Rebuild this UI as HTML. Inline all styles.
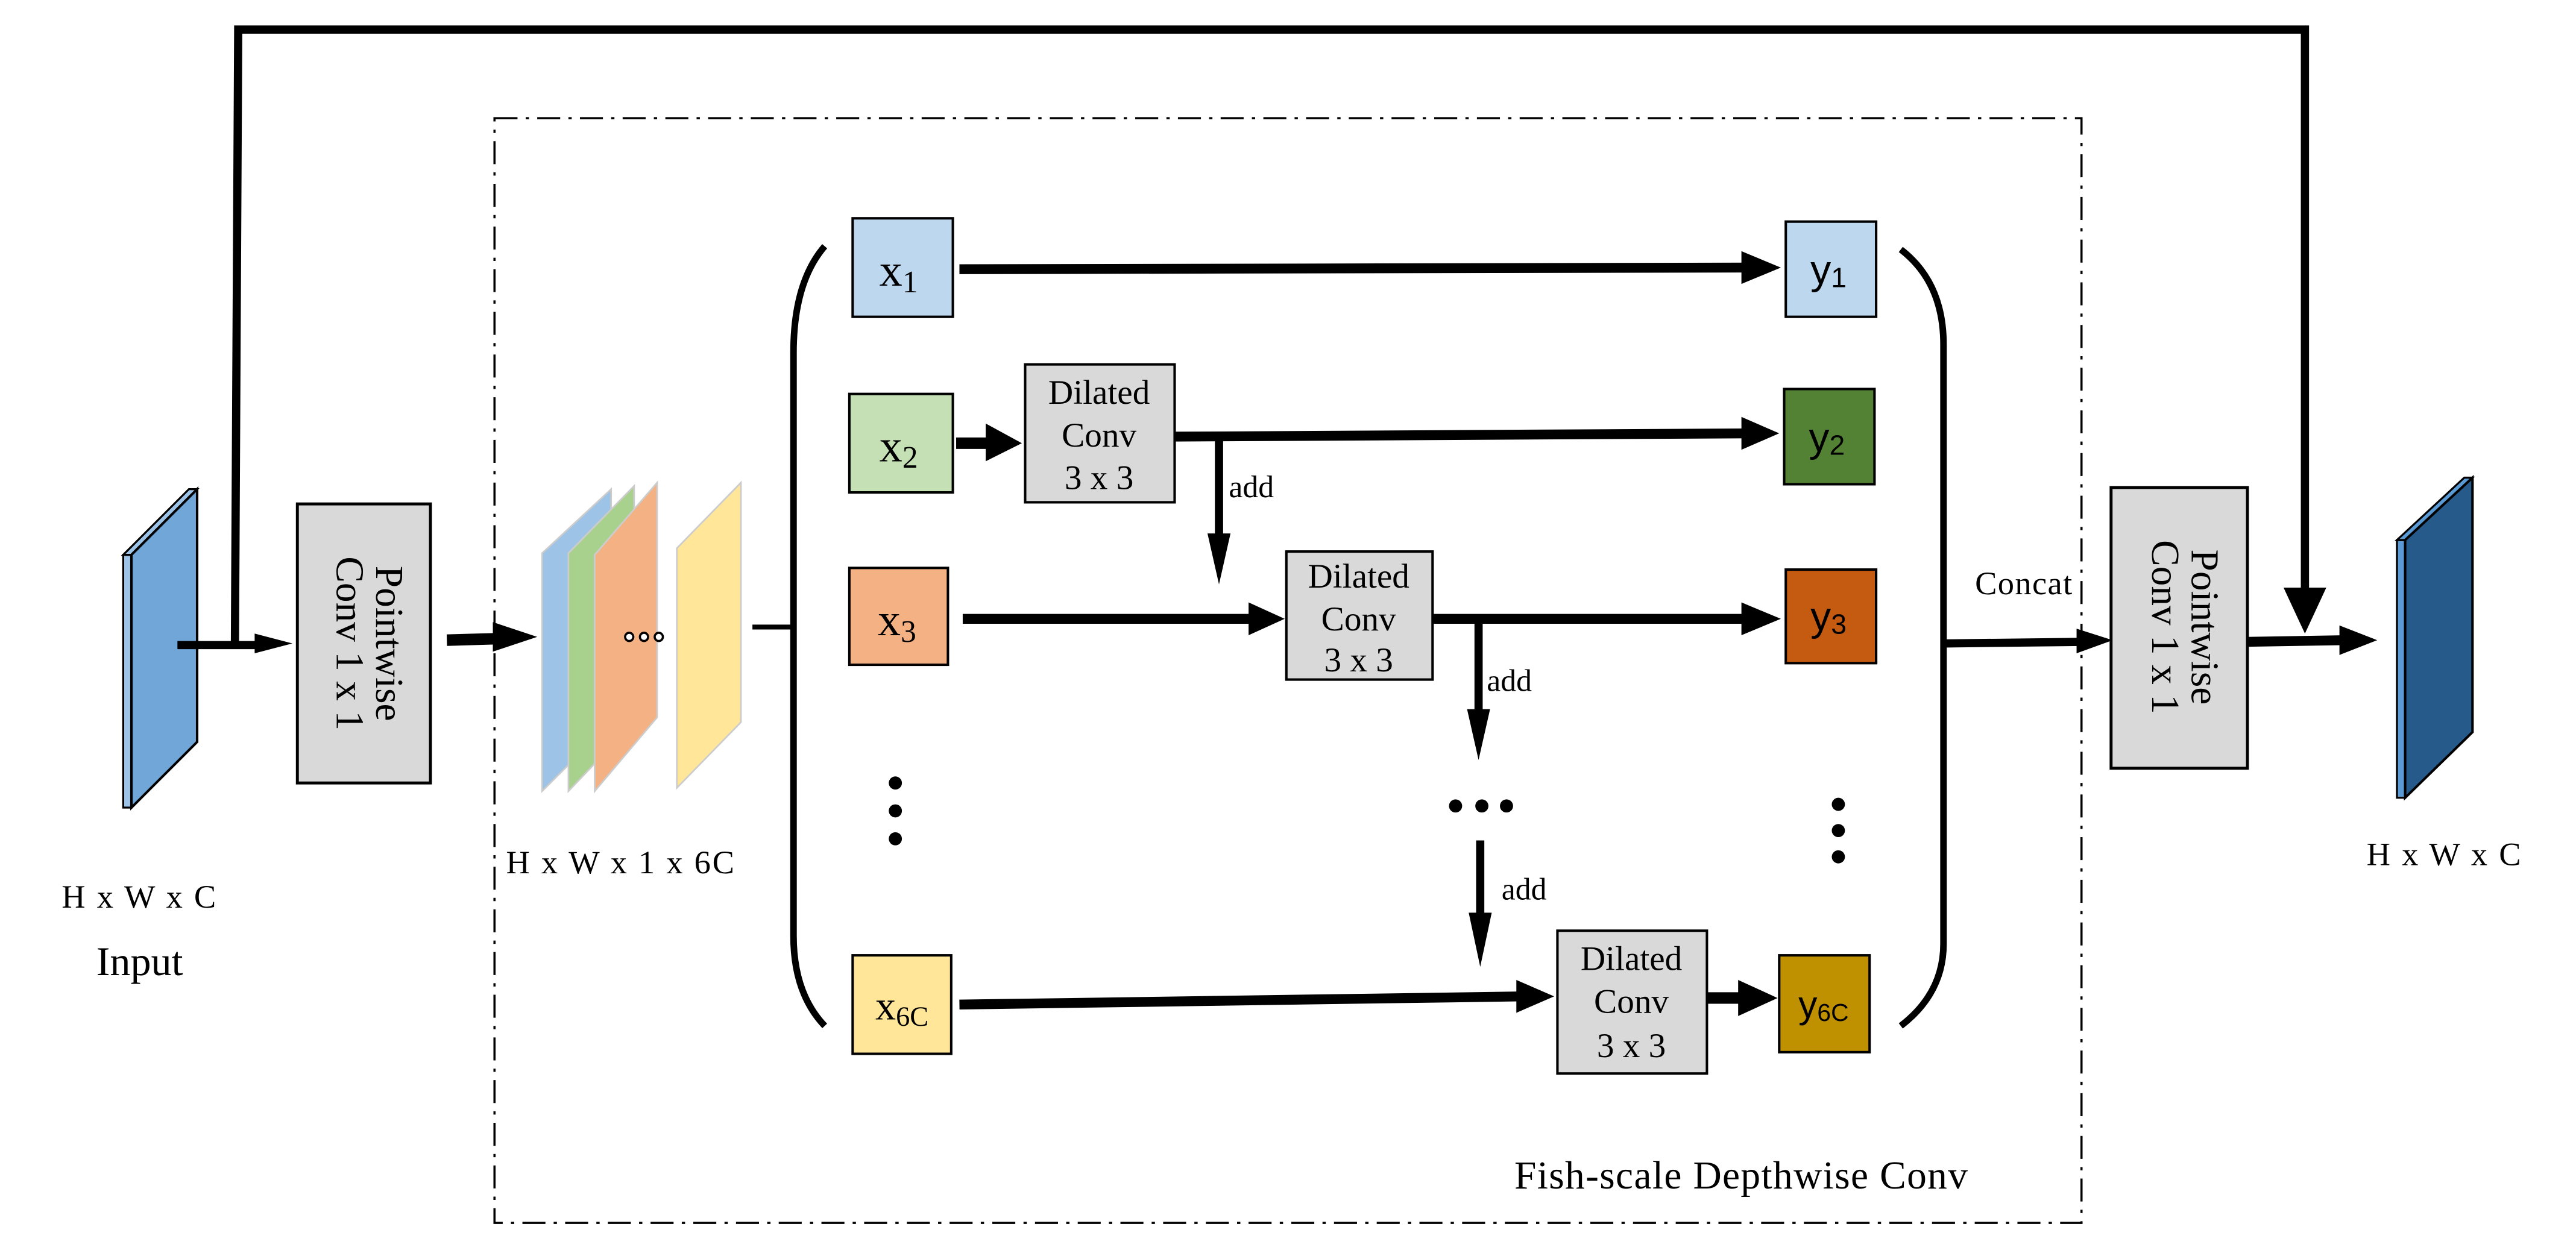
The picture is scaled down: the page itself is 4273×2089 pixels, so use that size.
<!DOCTYPE html>
<html><head><meta charset="utf-8"><style>
html,body{margin:0;padding:0;background:#fff;}
svg{display:block;}
text{font-family:"Liberation Serif",serif;fill:#000;}
.s{font-family:"Liberation Sans",sans-serif;}
</style></head><body>
<svg width="4273" height="2089" viewBox="0 0 1568 767" preserveAspectRatio="none" xmlns="http://www.w3.org/2000/svg">
<!-- dashed frame -->
<rect x="301" y="72" width="966" height="673" fill="none" stroke="#000" stroke-width="1.3" stroke-dasharray="14,5,2,5"/>
<!-- top skip -->
<polyline points="143,392 145,18 1403,18 1403,362" fill="none" stroke="#000" stroke-width="5"/>
<polygon points="1390,358 1416,358 1403,386" fill="#000"/>
<!-- input slab -->
<polygon points="75,338 80,338 80,492 75,492" fill="#9dc3e6" stroke="#000" stroke-width="1.2"/>
<polygon points="75,338 115,298 120,298 80,338" fill="#9dc3e6" stroke="#000" stroke-width="1.2"/>
<polygon points="80,338 120,298 120,452 80,492" fill="#70a6d8" stroke="#000" stroke-width="1.5"/>
<line x1="108" y1="393" x2="160" y2="393" stroke="#000" stroke-width="5"/>
<polygon points="155,386 178,392 155,398" fill="#000"/>
<!-- pointwise left -->
<rect x="181" y="307" width="81" height="170" fill="#d9d9d9" stroke="#000" stroke-width="1.8"/>
<text transform="translate(229,392) rotate(90)" text-anchor="middle" font-size="24">Pointwise</text>
<text transform="translate(205,392) rotate(90)" text-anchor="middle" font-size="24">Conv  1 x 1</text>
<line x1="272" y1="390" x2="306" y2="389" stroke="#000" stroke-width="7"/>
<polygon points="300,379 327,388 300,397" fill="#000"/>
<!-- stack -->
<polygon points="330,337 372,298 372,440 330,482" fill="#9dc3e6" stroke="#ccc" stroke-width="1"/>
<polygon points="346,337 386,296 386,440 346,482" fill="#a9d18e" stroke="#ccc" stroke-width="1"/>
<polygon points="362,338 400,294 400,437 362,482" fill="#f4b183" stroke="#ccc" stroke-width="1"/>
<polygon points="412,334 451,294 451,440 412,480" fill="#ffe699" stroke="#ccc" stroke-width="1"/>
<circle cx="383" cy="388" r="2.5" fill="#fff" stroke="#000" stroke-width="1.3"/>
<circle cx="392" cy="388" r="2.5" fill="#fff" stroke="#000" stroke-width="1.3"/>
<circle cx="401" cy="388" r="2.5" fill="#fff" stroke="#000" stroke-width="1.3"/>
<line x1="458" y1="382" x2="484" y2="382" stroke="#000" stroke-width="3"/>
<!-- braces -->
<path d="M502,150 Q483,172 483,215 L483,570 Q483,605 502,625" fill="none" stroke="#000" stroke-width="4"/>
<path d="M1157,152 Q1183,172 1183,210 L1183,575 Q1183,605 1157,625" fill="none" stroke="#000" stroke-width="4"/>
<line x1="1183" y1="392" x2="1270" y2="391" stroke="#000" stroke-width="5"/>
<polygon points="1264,383 1286,390 1264,398" fill="#000"/>
<text x="1232" y="362" text-anchor="middle" font-size="20" letter-spacing="0.5">Concat</text>
<!-- x boxes -->
<rect x="519" y="133" width="61" height="60" fill="#bdd7ee" stroke="#000" stroke-width="1.5"/>
<rect x="517" y="240" width="63" height="60" fill="#c5e0b4" stroke="#000" stroke-width="1.5"/>
<rect x="517" y="346" width="60" height="59" fill="#f4b183" stroke="#000" stroke-width="1.5"/>
<rect x="519" y="582" width="60" height="60" fill="#ffe699" stroke="#000" stroke-width="1.5"/>
<text x="547" y="174" text-anchor="middle" font-size="28">x<tspan font-size="19" dy="4">1</tspan></text>
<text x="547" y="281" text-anchor="middle" font-size="28">x<tspan font-size="19" dy="4">2</tspan></text>
<text x="546" y="387" text-anchor="middle" font-size="28">x<tspan font-size="19" dy="4">3</tspan></text>
<text x="549" y="621" text-anchor="middle" font-size="25">x<tspan font-size="17" dy="4">6C</tspan></text>
<!-- y boxes -->
<rect x="1087" y="135" width="55" height="58" fill="#bdd7ee" stroke="#000" stroke-width="1.5"/>
<rect x="1086" y="237" width="55" height="58" fill="#548235" stroke="#000" stroke-width="1.5"/>
<rect x="1087" y="347" width="55" height="57" fill="#c55a11" stroke="#000" stroke-width="1.5"/>
<rect x="1083" y="582" width="55" height="59" fill="#bf9000" stroke="#000" stroke-width="1.5"/>
<text class="s" x="1113" y="173" text-anchor="middle" font-size="25">y<tspan font-size="17" dy="2">1</tspan></text>
<text class="s" x="1112" y="275" text-anchor="middle" font-size="25">y<tspan font-size="17" dy="2">2</tspan></text>
<text class="s" x="1113" y="384" text-anchor="middle" font-size="25">y<tspan font-size="17" dy="2">3</tspan></text>
<text class="s" x="1110" y="620" text-anchor="middle" font-size="23">y<tspan font-size="15" dy="2">6C</tspan></text>
<!-- dilated -->
<rect x="624" y="222" width="91" height="84" fill="#d9d9d9" stroke="#000" stroke-width="1.5"/>
<text x="669" y="246" text-anchor="middle" font-size="21">Dilated</text>
<text x="669" y="272" text-anchor="middle" font-size="21">Conv</text>
<text x="669" y="298" text-anchor="middle" font-size="21">3 x 3</text>
<rect x="783" y="336" width="89" height="78" fill="#d9d9d9" stroke="#000" stroke-width="1.5"/>
<text x="827" y="358" text-anchor="middle" font-size="21">Dilated</text>
<text x="827" y="384" text-anchor="middle" font-size="21">Conv</text>
<text x="827" y="409" text-anchor="middle" font-size="21">3 x 3</text>
<rect x="948" y="567" width="91" height="87" fill="#d9d9d9" stroke="#000" stroke-width="1.5"/>
<text x="993" y="591" text-anchor="middle" font-size="21">Dilated</text>
<text x="993" y="617" text-anchor="middle" font-size="21">Conv</text>
<text x="993" y="644" text-anchor="middle" font-size="21">3 x 3</text>
<!-- arrows -->
<line x1="584" y1="164" x2="1065" y2="163" stroke="#000" stroke-width="6"/>
<polygon points="1060,153 1084,163 1060,173" fill="#000"/>
<line x1="582" y1="270" x2="605" y2="270" stroke="#000" stroke-width="7"/>
<polygon points="600,258 622,270 600,281" fill="#000"/>
<line x1="715" y1="266" x2="1065" y2="264" stroke="#000" stroke-width="6"/>
<polygon points="1060,254 1083,264 1060,274" fill="#000"/>
<line x1="742" y1="265" x2="742" y2="330" stroke="#000" stroke-width="5"/>
<polygon points="735,325 749,325 742,356" fill="#000"/>
<text x="748" y="303" font-size="19">add</text>
<line x1="586" y1="377" x2="765" y2="377" stroke="#000" stroke-width="6"/>
<polygon points="760,367 782,377 760,387" fill="#000"/>
<line x1="872" y1="377" x2="1065" y2="377" stroke="#000" stroke-width="6"/>
<polygon points="1060,367 1084,377 1060,387" fill="#000"/>
<line x1="900" y1="377" x2="900" y2="436" stroke="#000" stroke-width="5"/>
<polygon points="893,432 907,432 900,463" fill="#000"/>
<text x="905" y="421" font-size="19">add</text>
<circle cx="886" cy="491" r="4" fill="#000"/><circle cx="902" cy="491" r="4" fill="#000"/><circle cx="917" cy="491" r="4" fill="#000"/>
<line x1="901" y1="512" x2="901" y2="560" stroke="#000" stroke-width="5"/>
<polygon points="894,556 908,556 901,589" fill="#000"/>
<text x="914" y="548" font-size="19">add</text>
<line x1="584" y1="612" x2="928" y2="607" stroke="#000" stroke-width="6"/>
<polygon points="923,597 946,607 923,617" fill="#000"/>
<line x1="1039" y1="608" x2="1062" y2="608" stroke="#000" stroke-width="7"/>
<polygon points="1058,597 1082,608 1058,619" fill="#000"/>
<!-- vertical dots -->
<circle cx="545" cy="477" r="4" fill="#000"/><circle cx="545" cy="494" r="4" fill="#000"/><circle cx="545" cy="511" r="4" fill="#000"/>
<circle cx="1119" cy="490" r="4" fill="#000"/><circle cx="1119" cy="506" r="4" fill="#000"/><circle cx="1119" cy="522" r="4" fill="#000"/>
<!-- pointwise right -->
<rect x="1285" y="297" width="83" height="171" fill="#d9d9d9" stroke="#000" stroke-width="1.8"/>
<text transform="translate(1334,382) rotate(90)" text-anchor="middle" font-size="24">Pointwise</text>
<text transform="translate(1310,382) rotate(90)" text-anchor="middle" font-size="24">Conv  1 x 1</text>
<line x1="1368" y1="391" x2="1428" y2="390" stroke="#000" stroke-width="6"/>
<polygon points="1424,381 1447,390 1424,399" fill="#000"/>
<!-- output slab -->
<polygon points="1459,329 1464,329 1464,486 1459,486" fill="#5b9bd5" stroke="#000" stroke-width="1.2"/>
<polygon points="1459,329 1500,291 1505,291 1464,329" fill="#5b9bd5" stroke="#000" stroke-width="1.2"/>
<polygon points="1464,329 1505,291 1505,446 1464,486" fill="#255a8a" stroke="#000" stroke-width="1.5"/>
<!-- labels -->
<text x="85" y="553" text-anchor="middle" font-size="20" letter-spacing="1">H x W x C</text>
<text x="85" y="594" text-anchor="middle" font-size="25">Input</text>
<text x="378" y="532" text-anchor="middle" font-size="20" letter-spacing="1">H x W x 1 x 6C</text>
<text x="1488" y="527" text-anchor="middle" font-size="20" letter-spacing="1">H x W x C</text>
<text x="1060" y="724" text-anchor="middle" font-size="24" letter-spacing="0.5">Fish-scale Depthwise Conv</text>
</svg>
</body></html>
